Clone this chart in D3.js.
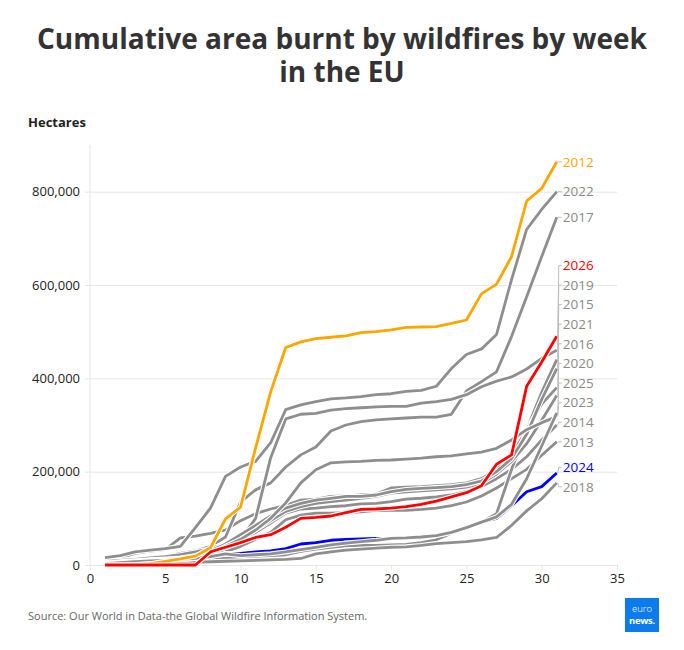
<!DOCTYPE html>
<html>
<head>
<meta charset="utf-8">
<script src="https://cdn.jsdelivr.net/npm/d3@7"></script>
<style>
  body { margin: 0; background: #fff; }
  svg { display: block; font-family: "Open Sans", "Noto Sans", sans-serif; }
</style>
</head>
<body>
<div id="chart"></div>
<script>
// Cumulative burnt area (thousand hectares) per week, EU
const weeks = d3.range(1, 32);

const s2012 = [0,0,1,3,8,13,19,37,99,124,251,371,466,478,485,488,491,498,500,504,509,510,511,518,525,581,602,661,780,807,864];
const s2013 = [4,6,8,10,12,14,16,20,28,40,55,70,97,107,111,111,112,114,117,117,117,119,122,127,135,148,165,185,205,235,264];
const s2014 = [6,8,10,12,14,16,20,28,40,55,70,90,111,120,122,125,127,131,132,136,141,143,146,150,158,168,185,205,232,268,300];
const s2015 = [10,15,25,30,33,58,62,68,75,95,110,120,128,139,141,147,148,150,152,165,167,168,170,172,176,185,205,235,290,370,440];
const s2016 = [3,4,5,6,7,8,10,12,14,16,18,20,22,29,34,38,41,42,42,43,44,48,54,68,80,92,110,205,290,345,380];
const s2017 = [8,10,12,15,18,25,30,40,60,135,161,176,210,236,253,287,300,307,311,313,315,317,317,323,373,393,414,490,575,661,745];
const s2018 = [1,2,3,4,5,5,6,7,8,9,10,11,12,14,24,28,32,34,36,38,39,42,46,48,50,54,59,85,116,142,176];
const s2019 = [5,7,9,12,15,20,25,35,45,55,100,230,313,323,325,332,335,337,339,340,340,347,350,355,365,382,394,403,420,443,460];
const s2020 = [8,10,12,15,18,22,28,35,45,60,75,95,115,125,132,136,139,143,147,154,157,159,161,163,167,175,195,222,260,310,363];
const s2021 = [5,7,9,11,13,15,20,30,45,65,85,105,122,132,139,143,147,147,150,157,162,164,166,168,172,180,200,228,280,355,421];
const s2022 = [16,20,28,32,35,40,80,122,190,210,222,262,333,343,350,356,358,361,365,367,372,374,383,421,451,463,494,612,719,762,800];
const s2023 = [5,6,8,10,12,14,18,25,40,55,75,100,133,176,204,219,221,222,224,225,227,229,232,234,238,242,250,268,290,305,318];
const s2024 = [3,5,7,9,10,12,14,18,24,25,28,30,35,45,48,53,55,56,57,57,58,60,63,70,80,92,100,127,157,168,197];
const s2025 = [3,5,7,9,10,12,14,18,24,20,22,24,28,33,38,43,47,50,53,57,58,60,63,70,80,92,103,130,185,255,326];
const s2026 = [0,0,0,0,0,0,0,28,38,48,59,65,81,100,102,105,112,119,120,122,125,130,137,146,155,170,216,236,383,435,490];

// drawing order: greys first, then the highlighted years on top
const series = [
  { year: "2013", values: s2013 },
  { year: "2014", values: s2014 },
  { year: "2015", values: s2015 },
  { year: "2016", values: s2016 },
  { year: "2017", values: s2017 },
  { year: "2018", values: s2018 },
  { year: "2019", values: s2019 },
  { year: "2020", values: s2020 },
  { year: "2021", values: s2021 },
  { year: "2022", values: s2022 },
  { year: "2023", values: s2023 },
  { year: "2024", values: s2024 },
  { year: "2025", values: s2025 },
  { year: "2012", values: s2012 },
  { year: "2026", values: s2026 },
];

const yTicks = [0, 200, 400, 600, 800];
const xTicks = [0, 5, 10, 15, 20, 25, 30, 35];

const highlight = { "2012": "#ffa500", "2024": "#0000ff", "2026": "#ff0000" };
const grey = "#8e8e8e";

const W = 684, H = 650;
const svg = d3.select("#chart").append("svg")
  .attr("width", W).attr("height", H);

// Title
svg.append("text")
  .attr("x", W / 2).attr("y", 49)
  .attr("text-anchor", "middle")
  .attr("font-size", "28px").attr("font-weight", 700).attr("fill", "#333")
  .selectAll("tspan")
  .data(["Cumulative area burnt by wildfires by week", "in the EU"])
  .join("tspan")
  .attr("x", W / 2)
  .attr("dy", (d, i) => i ? 33 : 0)
  .text(d => d);

svg.append("text")
  .attr("x", 28).attr("y", 127)
  .attr("font-size", "13px").attr("font-weight", 700).attr("fill", "#222")
  .text("Hectares");

const x = d3.scaleLinear().domain([0, 35]).range([90, 617]);
const y = d3.scaleLinear().domain([0, 900]).range([565, 145]);

// Grid + y axis
const gy = svg.append("g")
  .attr("transform", "translate(90,0)")
  .call(d3.axisLeft(y).tickValues(yTicks).tickSize(5)
    .tickFormat(d => d3.format(",")(d * 1000)));
gy.select(".domain").remove();
gy.selectAll(".tick line").attr("stroke", "#e6e6e6");
gy.selectAll(".tick line").clone()
  .attr("x1", 0).attr("x2", 617 - 90);
gy.selectAll(".tick text")
  .attr("x", -10)
  .attr("font-size", "13px").attr("fill", "#222")
  .attr("font-family", "Open Sans");

svg.append("line")
  .attr("x1", 90).attr("x2", 90)
  .attr("y1", 145).attr("y2", 565)
  .attr("stroke", "#e6e6e6");

const gx = svg.append("g")
  .attr("transform", "translate(0,565)")
  .call(d3.axisBottom(x).tickValues(xTicks).tickSize(5));
gx.select(".domain").remove();
gx.selectAll(".tick line").attr("stroke", "#e6e6e6");
gx.selectAll(".tick text")
  .attr("y", 9)
  .attr("font-size", "13px").attr("fill", "#222")
  .attr("font-family", "Open Sans");

// Lines, each with a thin white halo
const line = d3.line()
  .x((d, i) => x(weeks[i]))
  .y(d => y(d));

const lines = svg.append("g");
series.forEach(s => {
  const color = highlight[s.year] || grey;
  lines.append("path")
    .attr("d", line(s.values))
    .attr("fill", "none")
    .attr("stroke", "#fff")
    .attr("stroke-width", 5)
    .attr("stroke-linejoin", "round");
  lines.append("path")
    .attr("d", line(s.values))
    .attr("fill", "none")
    .attr("stroke", color)
    .attr("stroke-width", 2.8)
    .attr("stroke-linejoin", "round");
});

// End labels: stack from the bottom upward so they do not collide
const lastW = weeks[weeks.length - 1];
const ends = series.map(s => ({
  year: s.year,
  color: highlight[s.year] || grey,
  yEnd: y(s.values[s.values.length - 1]),
})).sort((a, b) => b.yEnd - a.yEnd);

const gap = 19.6;
ends.forEach((d, i) => {
  d.yLab = i === 0 ? d.yEnd + 4 : Math.min(d.yEnd, ends[i - 1].yLab - gap);
});

const xe = x(lastW);
const labels = svg.append("g");
ends.forEach(d => {
  labels.append("path")
    .attr("d", `M${xe + 1},${d.yEnd}L${xe + 2},${d.yLab}L${xe + 5},${d.yLab}`)
    .attr("fill", "none")
    .attr("stroke", "#bdbdbd")
    .attr("stroke-width", 1);
  labels.append("text")
    .attr("x", xe + 6).attr("y", d.yLab)
    .attr("dy", "0.35em")
    .attr("font-size", "13.5px")
    .attr("fill", d.color === grey ? "#8a8a8a" : d.color)
    .text(d.year);
});

// Footer
svg.append("text")
  .attr("x", 28).attr("y", 620)
  .attr("font-size", "11px").attr("fill", "#666")
  .text("Source: Our World in Data-the Global Wildfire Information System.");

const logo = svg.append("g").attr("transform", "translate(625,598)");
logo.append("rect").attr("width", 34).attr("height", 34).attr("fill", "#0b7bee");
logo.append("text")
  .attr("x", 17).attr("y", 14).attr("text-anchor", "middle")
  .attr("font-size", "9.5px").attr("font-weight", 300).attr("fill", "#fff")
  .text("euro");
logo.append("text")
  .attr("x", 17).attr("y", 26).attr("text-anchor", "middle")
  .attr("font-size", "9.5px").attr("font-weight", 700).attr("fill", "#fff")
  .attr("letter-spacing", "-0.3")
  .text("news.");
</script>
</body>
</html>
